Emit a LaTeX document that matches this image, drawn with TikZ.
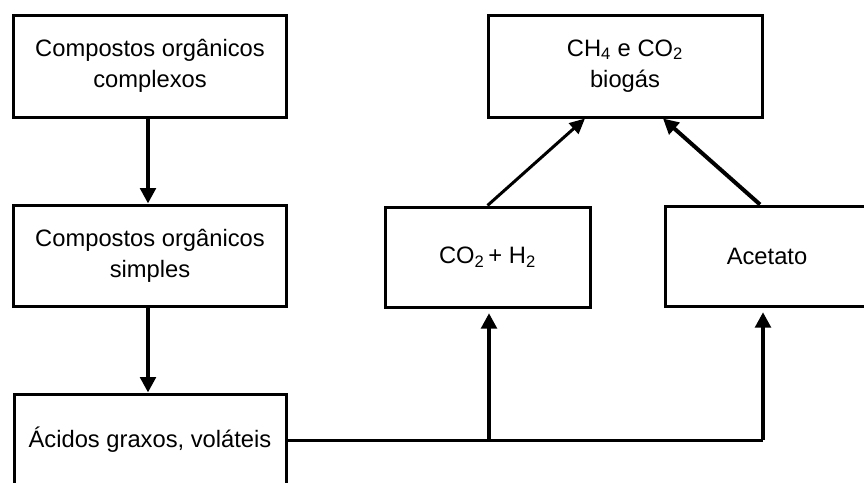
\documentclass[tikz,border=0pt]{standalone}
\usepackage{fontspec}
\setmainfont{Liberation Sans}
\usetikzlibrary{arrows.meta}
\begin{document}
\begin{tikzpicture}[x=0.75pt,y=-0.75pt,
  box/.style={draw, line width=2.25pt, inner sep=0pt, align=center,
    font=\fontsize{17.8pt}{23.5pt}\selectfont},
  arr/.style={-{Triangle[length=11.5pt,width=11.5pt]}, line width=3pt},
  arrthin/.style={-{Triangle[length=11.5pt,width=10.5pt]}, line width=2.25pt},
  ln/.style={line width=2.25pt}]
\useasboundingbox (0,0) rectangle (864,482);
\clip (0,0) rectangle (864,482);
\node[box, minimum width=204.75pt, minimum height=76.5pt] (b1) at (150,66) {Compostos orgânicos\\complexos};
\node[box, minimum width=204.75pt, minimum height=75.75pt] (b2) at (150,255.5) {Compostos orgânicos\\simples};
\node[box, minimum width=204pt, minimum height=69pt] (b3) at (150,440) {Ácidos graxos, voláteis};
\node[box, minimum width=205.5pt, minimum height=76.5pt] (b4) at (625,66) {CH\textsubscript{4} e CO\textsubscript{2}\\biogás};
\node[box, minimum width=153.75pt, minimum height=75pt] (b5) at (487.5,257) {CO\textsubscript{2}\,+ H\textsubscript{2}};
\node[box, minimum width=153pt, minimum height=75pt] (b6) at (767,256) {Acetato};
\coordinate (j1) at (489,440);
\coordinate (j2) at (763,440);
\draw[arr] ([xshift=-1.5pt]b1.south) -- ([xshift=-1.5pt]b2.north);
\draw[arr] ([xshift=-1.5pt]b2.south) -- ([xshift=-1.5pt]b3.north);
\draw[ln] (b3.east) -- (j2);
\draw[arr, shorten >=3.5pt] (j1) -- (j1 |- b5.south);
\draw[arr, shorten >=3.5pt] (j2) -- (j2 |- b6.south);
\draw[arrthin] (b5.north) -- ([xshift=-30pt]b4.south);
\draw[arr] ([xshift=-5.25pt]b6.north) -- ([xshift=28.5pt]b4.south);
\end{tikzpicture}
\end{document}
